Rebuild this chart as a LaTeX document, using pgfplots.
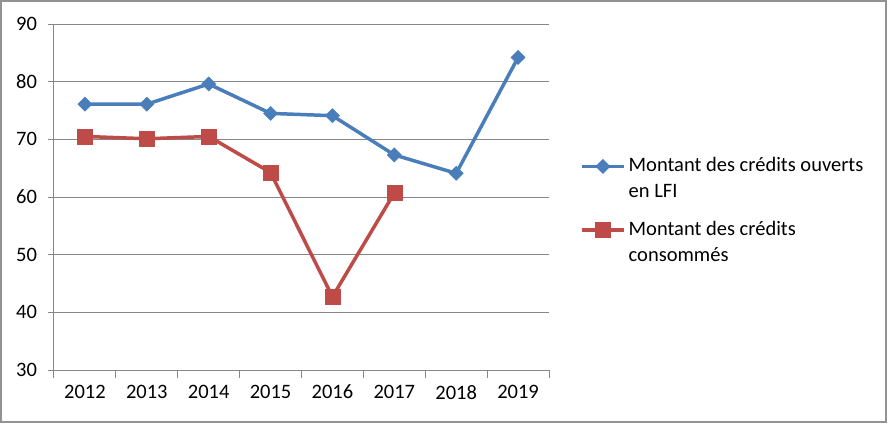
\documentclass[border=0pt]{standalone}
\usepackage{pgfplots}
\pgfplotsset{compat=1.18}
\usepackage{fontspec}
\setmainfont{Carlito}
\definecolor{cblue}{HTML}{4A7EBB}
\definecolor{cred}{HTML}{BE4B48}
\definecolor{cgrid}{HTML}{868686}
\begin{document}
\fontsize{20.5}{25.5}\selectfont
\begin{tikzpicture}
\useasboundingbox (-54pt,-54pt) rectangle (834pt,370pt);
\draw[line width=2pt, color=cgrid!90] (-52.5pt,-51.5pt) rectangle (831.5pt,368.5pt);
\begin{axis}[
  at={(0pt,0pt)}, anchor=south west,
  scale only axis, width=495pt, height=346pt,
  xmin=-0.5, xmax=7.5, ymin=30, ymax=90,
  ytick={30,40,...,90},
  xtick={0,...,7},
  xticklabels={2012,2013,2014,2015,2016,2017,2018,2019},
  minor xtick={-0.5,0.5,...,7.5},
  axis x line=bottom, axis y line=left,
  axis line style={-, color=cgrid, line width=1pt},
  ymajorgrids, grid style={color=cgrid, line width=1pt},
  tick align=outside,
  major tick length=6pt, minor tick length=8pt,
  x tick style={draw=none},
  minor x tick style={draw=cgrid, line width=1pt},
  y tick style={draw=cgrid, line width=1pt},
  /pgf/number format/assume math mode=true,
  tick label style={font=\fontsize{20.5}{24}\selectfont, text=black},
  yticklabel style={xshift=-4pt},
  xticklabel style={yshift=-2pt},
  legend style={at={(1,0.46)}, anchor=west, xshift=28pt, draw=none, fill=none,
    nodes={align=left, font=\fontsize{20.5}{25.5}\selectfont, inner sep=3pt},
    row sep=15pt},
  legend cell align=left,
  legend image code/.code={\draw[yshift=12.5pt, mark repeat=2, mark phase=2] plot coordinates {(0pt,0pt) (21pt,0pt) (42pt,0pt)};},
]
\addplot[color=cblue, line width=3.5pt, mark=square*, mark size=5pt, mark options={rotate=45, solid, line width=0.5pt, fill=cblue}]
coordinates {(0,76.1) (1,76.1) (2,79.6) (3,74.5) (4,74.1) (5,67.3) (6,64.1) (7,84.2)};
\addlegendentry{Montant des crédits ouverts\\en LFI}
\addplot[color=cred, line width=3.5pt, mark=square*, mark size=7.5pt, mark options={solid, line width=0.5pt, fill=cred}]
coordinates {(0,70.5) (1,70.1) (2,70.5) (3,64.25) (4,42.7) (5,60.7)};
\addlegendentry{Montant des crédits\\consommés}
\end{axis}
\end{tikzpicture}
\end{document}
